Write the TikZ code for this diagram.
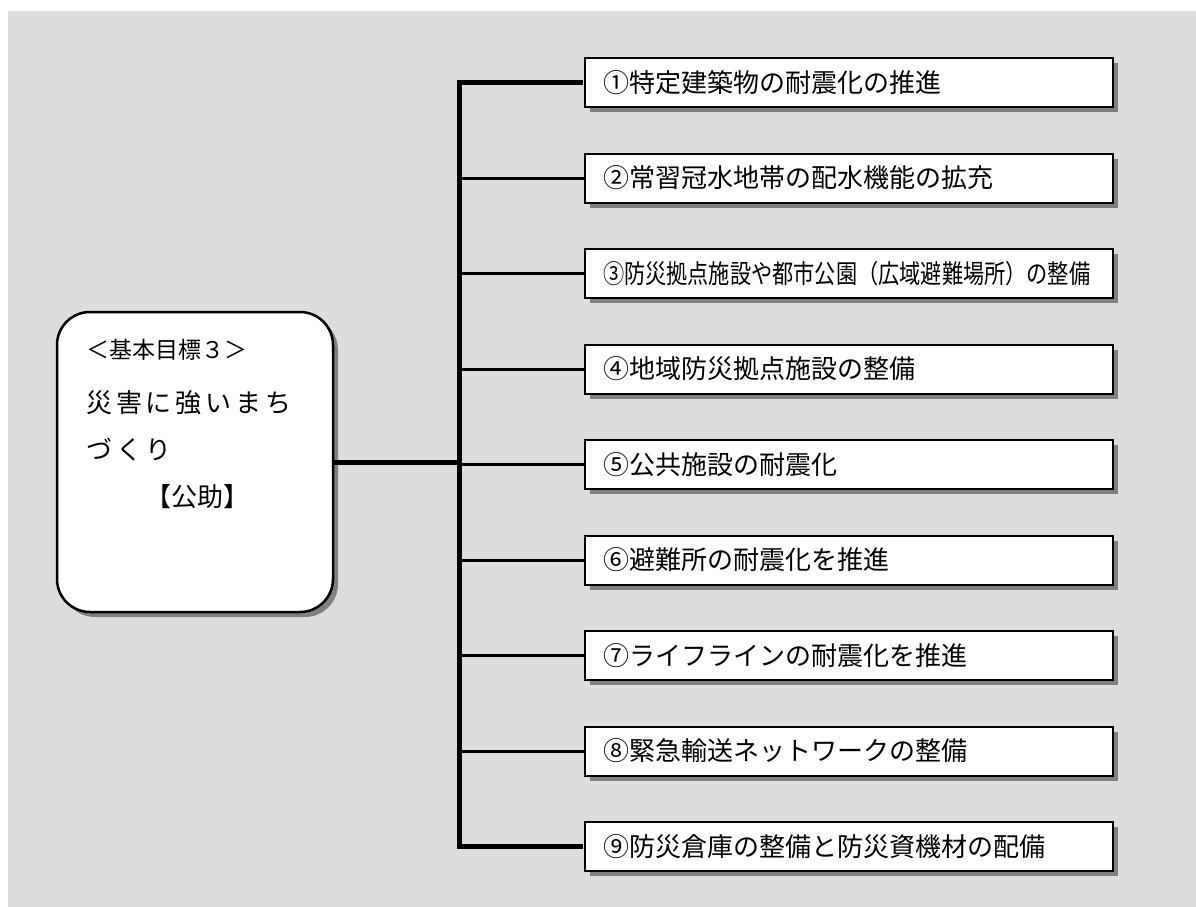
\documentclass[tikz,border=0pt]{standalone}
\usepackage{fontspec}
\setmainfont{Noto Sans CJK JP}
\usepackage{tikz}
\usetikzlibrary{positioning, shadows, calc}
\definecolor{BackColor}{RGB}{221,221,221}
\definecolor{ShadowColor}{RGB}{128,128,128}
\tikzstyle{goalbox} = [rectangle, rounded corners=33pt, minimum width=276pt, minimum height=300pt, draw=black, line width=2.5pt, fill=white, drop shadow={shadow xshift=5pt, shadow yshift=-5pt, fill=ShadowColor, opacity=1}]
\tikzstyle{measure} = [rectangle, minimum width=528pt, minimum height=49pt, inner xsep=18pt, inner ysep=0pt, text width=492pt, align=left, draw=black, line width=2pt, fill=white, font=\fontsize{26pt}{30pt}\selectfont, drop shadow={shadow xshift=5pt, shadow yshift=-5pt, fill=ShadowColor, opacity=1}]
\tikzstyle{goaltext} = [anchor=west, inner sep=0pt, font=\fontsize{26pt}{30pt}\selectfont\addfontfeature{LetterSpace=15}]
\tikzstyle{trunk} = [line width=5pt, black]
\tikzstyle{branch} = [line width=3pt, black]

\begin{document}
\begin{tikzpicture}[x=1pt, y=-1pt]
            \useasboundingbox (0,0) rectangle (1196,907);
            \fill[BackColor] (8,11) rectangle (1196,907);

            % basic goal
            \node[goalbox] (goal) at (195,462) {};
            \node[anchor=west, inner sep=0pt, font=\fontsize{23pt}{27pt}\selectfont] (title) at (86,350) {＜基本目標３＞};
            \node[goaltext] (name1) at (86,403) {災害に強いまち};
            \node[goaltext] (name2) at (86,450) {づくり};
            \node[inner sep=0pt, font=\fontsize{26pt}{30pt}\selectfont] (kojo) at (197,497) {【公助】};

            % measures
            \node[measure] (m1) at (849,82.5) {①特定建築物の耐震化の推進};
            \node[measure] (m2) at (849,178) {②常習冠水地帯の配水機能の拡充};
            \node[measure] (m3) at (849,273.5) {\scalebox{0.815}[1]{③防災拠点施設や都市公園（広域避難場所）の整備}};
            \node[measure] (m4) at (849,369) {④地域防災拠点施設の整備};
            \node[measure] (m5) at (849,464.5) {⑤公共施設の耐震化};
            \node[measure] (m6) at (849,560) {⑥避難所の耐震化を推進};
            \node[measure] (m7) at (849,655.5) {⑦ライフラインの耐震化を推進};
            \node[measure] (m8) at (849,751) {⑧緊急輸送ネットワークの整備};
            \node[measure] (m9) at (849,846.5) {⑨防災倉庫の整備と防災資機材の配備};

            % connectors
            \coordinate (hub) at (459,462);
            \draw[trunk] (goal.east) -- (hub);
            \draw[trunk, miter limit=10] ($(m1.west)+(-1,0)$) -- (m1.west -| hub) -- (m9.west -| hub) -- ($(m9.west)+(-1,0)$);
            \draw[branch] (m2.west -| hub) -- (m2.west);
            \draw[branch] (m3.west -| hub) -- (m3.west);
            \draw[branch] (m4.west -| hub) -- (m4.west);
            \draw[branch] (m5.west -| hub) -- (m5.west);
            \draw[branch] (m6.west -| hub) -- (m6.west);
            \draw[branch] (m7.west -| hub) -- (m7.west);
            \draw[branch] (m8.west -| hub) -- (m8.west);
        \end{tikzpicture}
\end{document}
